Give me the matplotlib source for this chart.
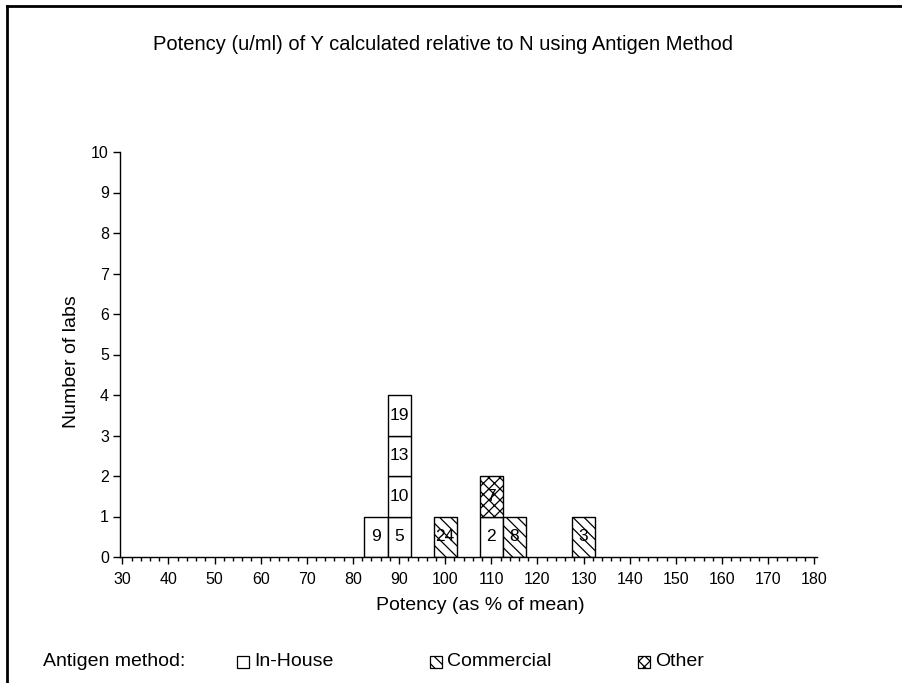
import matplotlib
matplotlib.use("Agg")
import matplotlib.pyplot as plt
from matplotlib.patches import Rectangle
from matplotlib.lines import Line2D
from matplotlib.ticker import MultipleLocator

plt.rcParams['font.family'] = ['Liberation Sans', 'DejaVu Sans']
plt.rcParams['hatch.linewidth'] = 0.9

# Data
lab_ids = ['9', '5', '10', '13', '19', '24', '2', '7', '8', '3']
potency_bins = [85, 90, 90, 90, 90, 100, 110, 110, 115, 130]
methods = ['In-House', 'In-House', 'In-House', 'In-House', 'In-House',
           'Commercial', 'In-House', 'Other', 'Commercial', 'Commercial']
method_names = ['In-House', 'Commercial', 'Other']
method_hatch = {'In-House': '', 'Commercial': '\\\\\\', 'Other': 'xxx'}
bin_width = 5
x_ticks = list(range(30, 181, 10))
y_ticks = list(range(0, 11))

fig = plt.figure(figsize=(9.03, 6.83), dpi=100)
ax = fig.add_axes([120/903, 126/683, 697/903, 405/683])

counts = {}
for lab, b, m in zip(lab_ids, potency_bins, methods):
    bottom = counts.get(b, 0)
    ax.bar(b, 1, bottom=bottom, width=bin_width, facecolor='white',
           edgecolor='black', linewidth=1.0, hatch=method_hatch[m], zorder=2)
    ax.text(b, bottom + 0.5, lab, ha='center', va='center', fontsize=12.5, zorder=3)
    counts[b] = bottom + 1

ax.set_xlim(29.5, 180.6)
ax.set_ylim(0, 10)
ax.set_xticks(x_ticks)
ax.xaxis.set_minor_locator(MultipleLocator(2))
ax.set_yticks(y_ticks)
ax.tick_params(axis='both', which='major', direction='out', length=5, width=1,
               labelsize=11.5, colors='black', pad=3)
ax.tick_params(axis='x', which='major', pad=6)
ax.tick_params(axis='x', which='minor', direction='out', length=3, width=1)
for s in ['top', 'right']:
    ax.spines[s].set_visible(False)
for s in ['left', 'bottom']:
    ax.spines[s].set_linewidth(1.0)

fig.text(443/903, 1 - 45/683, 'Potency (u/ml) of Y calculated relative to N using Antigen Method',
         ha='center', va='center', fontsize=14.5)
fig.text(480/903, 1 - 605/683, 'Potency (as % of mean)', ha='center', va='center', fontsize=14)
fig.text(72/903, 1 - 362/683, 'Number of labs', ha='center', va='center', rotation=90, fontsize=14)

# Legend
ly = 1 - 662/683
fig.text(43/903, ly, 'Antigen method:', ha='left', va='center', fontsize=14)
sq_x = [237, 430, 638]
sq = 12
for name, px in zip(method_names, sq_x):
    r = Rectangle((px/903, ly - (sq/2)/683), sq/903, sq/683, transform=fig.transFigure,
                  facecolor='white', edgecolor='black', linewidth=0.9,
                  hatch=method_hatch[name])
    fig.patches.append(r)
    fig.text((px + sq + 5)/903, ly, name, ha='left', va='center', fontsize=14)

# Border lines
fig.add_artist(Line2D([7/903, 1.0], [1 - 6/683, 1 - 6/683], transform=fig.transFigure,
                      color='black', linewidth=2))
fig.add_artist(Line2D([7/903, 7/903], [0, 1 - 6/683], transform=fig.transFigure,
                      color='black', linewidth=2))

fig.savefig('out.png', dpi=100)
